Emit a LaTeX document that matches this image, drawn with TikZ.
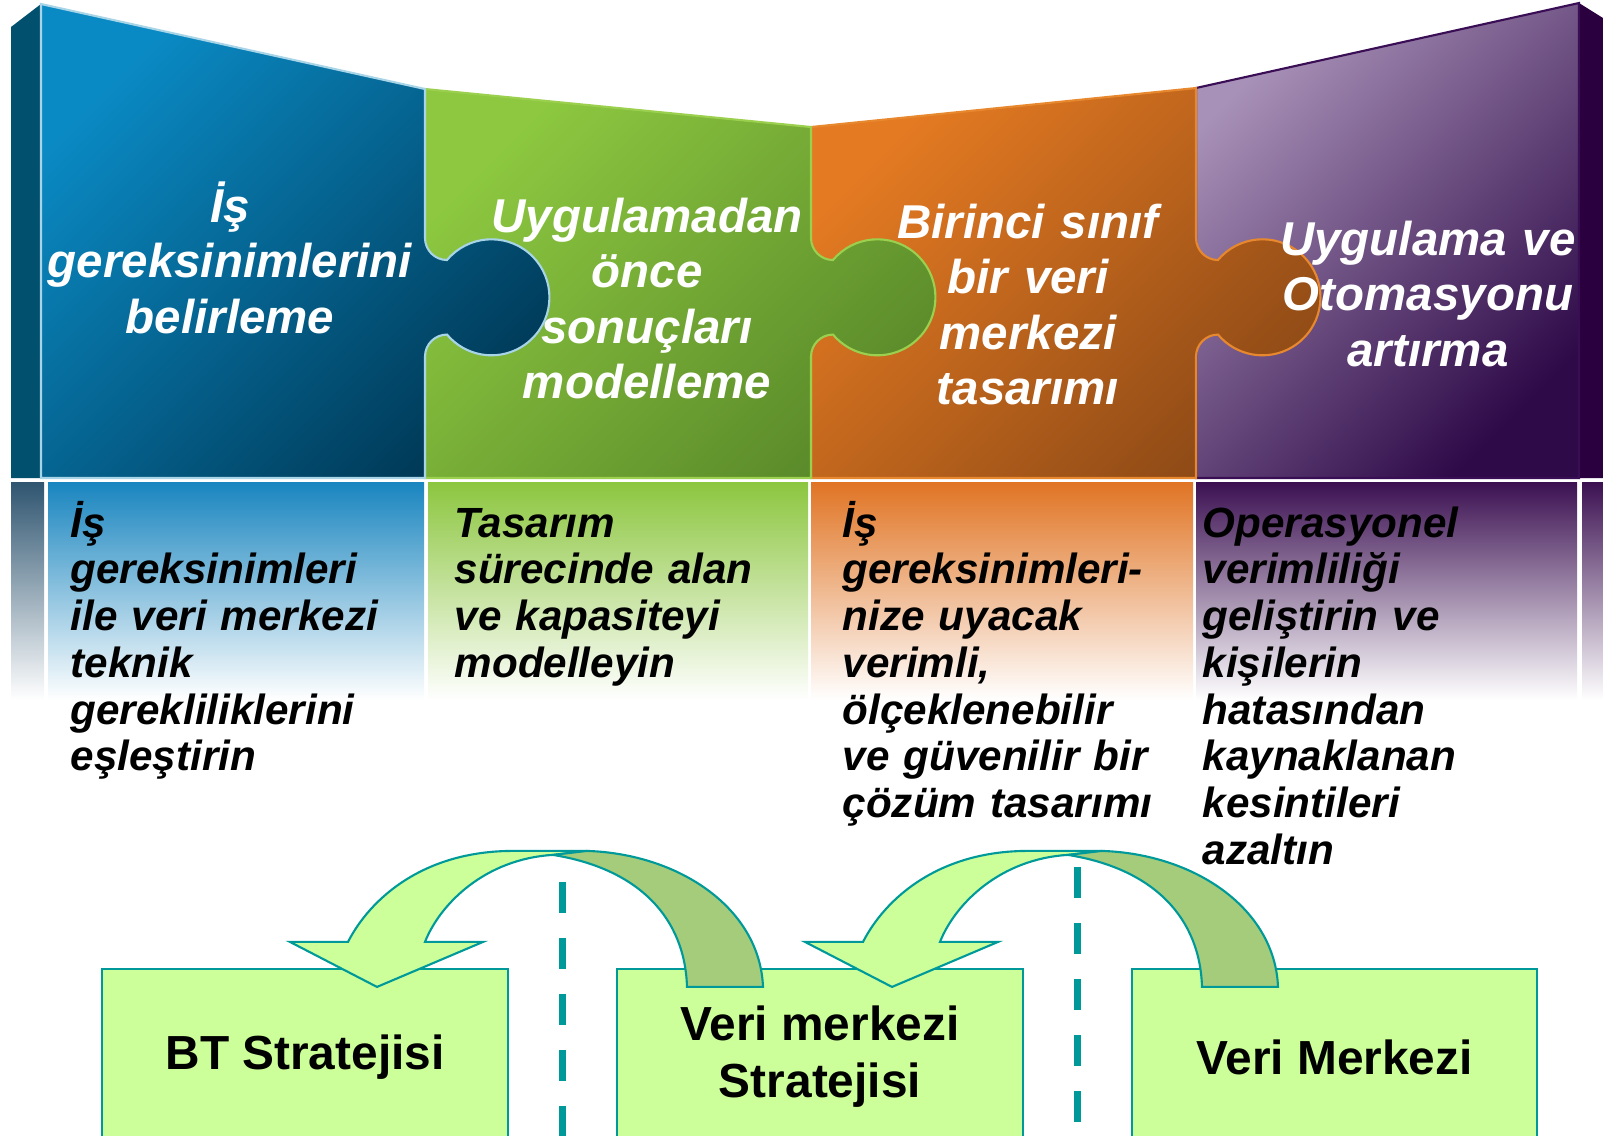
\documentclass[tikz,border=0pt]{standalone}
\usepackage{fontspec}
\setmainfont{Liberation Sans}
\usetikzlibrary{positioning}
\usetikzlibrary{calc}
\usepackage{xcolor}

\definecolor{tealline}{HTML}{009999}
\definecolor{boxgreen}{HTML}{CCFF99}
\definecolor{backgreen}{HTML}{A5CC7A}
\definecolor{sideblue}{HTML}{00506E}
\definecolor{sidepurple}{HTML}{2A003E}
\definecolor{bluetop}{HTML}{0A8AC4}
\definecolor{bluebot}{HTML}{003A58}
\definecolor{blueedge}{HTML}{A8D4E8}
\definecolor{greentop}{HTML}{8DC840}
\definecolor{greenbot}{HTML}{5A8A2A}
\definecolor{greenedge}{HTML}{9BD04F}
\definecolor{orangetop}{HTML}{E47A22}
\definecolor{orangebot}{HTML}{8E4A16}
\definecolor{orangeedge}{HTML}{E8882E}
\definecolor{purpletop}{HTML}{A891B8}
\definecolor{purplebot}{HTML}{2E0A48}
\definecolor{purpleedge}{HTML}{3A0E55}
\definecolor{stripgray}{HTML}{2F5570}
\definecolor{bandblue}{HTML}{1985BF}
\definecolor{bandgreen}{HTML}{8CC63F}
\definecolor{bandorange}{HTML}{E07424}
\definecolor{bandpurple}{HTML}{3C1152}

\begin{document}
\begin{tikzpicture}[x=0.01cm,y=0.01cm,
    piece/.style={line width=0.6pt,shading angle=45},
    piecetext/.style={text=white,font=\fontsize{13.5}{15.8}\selectfont\bfseries\itshape,text width=4.2cm,align=center,anchor=base,inner sep=0pt},
    desc/.style={font=\fontsize{12}{13.3}\selectfont\bfseries\itshape,text width=3.9cm,align=left,anchor=base west,inner sep=0pt},
    stratbox/.style={draw=tealline,fill=boxgreen,line width=0.6pt,minimum width=4.05cm,minimum height=1.76cm,align=center,font=\fontsize{13.6}{16.2}\selectfont\bfseries},
    sepline/.style={tealline,line width=2pt,dash pattern=on 0.31cm off 0.25cm},
    uarrow/.style={draw=tealline,line width=0.6pt}]
    \useasboundingbox (0,0) rectangle (1603,-1135);

    % side faces of the wall
    \fill[sideblue] (11,-27) -- (41,-4) -- (41,-478) -- (11,-478) -- cycle;
    \fill[sidepurple] (1579,-3) -- (1603,-18) -- (1603,-478) -- (1579,-478) -- cycle;

    % puzzle pieces, right to left so each tab lies on the next piece
    \path[draw=purpleedge,top color=purpletop,bottom color=purplebot,piece]
        (1196,-88) -- (1579,-3) -- (1579,-478) -- (1196,-478) -- cycle;
    \path[draw=orangeedge,top color=orangetop,bottom color=orangebot,piece]
        (811,-127) -- (1196,-88) -- (1196,-238)
        arc[start angle=180,end angle=270,radius=22]
        arc[start angle=140,end angle=-140,radius=58]
        arc[start angle=90,end angle=180,radius=22]
        -- (1196,-478) -- (811,-478) -- cycle;
    \path[draw=greenedge,top color=greentop,bottom color=greenbot,piece]
        (425,-89) -- (811,-127) -- (811,-238)
        arc[start angle=180,end angle=270,radius=22]
        arc[start angle=140,end angle=-140,radius=58]
        arc[start angle=90,end angle=180,radius=22]
        -- (811,-478) -- (425,-478) -- cycle;
    \path[draw=blueedge,top color=bluetop,bottom color=bluebot,piece]
        (41,-4) -- (425,-89) -- (425,-238)
        arc[start angle=180,end angle=270,radius=22]
        arc[start angle=140,end angle=-140,radius=58]
        arc[start angle=90,end angle=180,radius=22]
        -- (425,-478) -- (41,-478) -- cycle;

    \node[piecetext] (isg) at (230,-222) {İş\\gereksinimlerini\\belirleme};
    \node[piecetext] (uyg) at (647,-232) {Uygulamadan\\önce\\sonuçları\\modelleme};
    \node[piecetext] (bir) at (1028,-238) {Birinci sınıf\\bir veri\\merkezi\\tasarımı};
    \node[piecetext] (otm) at (1428,-255) {Uygulama ve\\Otomasyonu\\artırma};

    % fading band under the wall
    \shade[top color=stripgray,bottom color=white] (11,-482) rectangle (44,-700);
    \shade[top color=bandblue,bottom color=white] (48,-482) rectangle (424,-700);
    \shade[top color=bandgreen,bottom color=white] (428,-482) rectangle (808,-700);
    \shade[top color=bandorange,bottom color=white] (811,-482) rectangle (1193,-700);
    \shade[top color=bandpurple,bottom color=white] (1196,-482) rectangle (1577,-700);
    \shade[top color=bandpurple,bottom color=white] (1582,-482) rectangle (1603,-700);

    \node[desc] (isdesc) at (70,-537) {İş\\gereksinimleri\\ile veri merkezi\\teknik\\gerekliliklerini\\eşleştirin};
    \node[desc] (tasdesc) at (454,-537) {Tasarım\\sürecinde alan\\ve kapasiteyi\\modelleyin};
    \node[desc] (cozdesc) at (842,-537) {İş\\gereksinimleri-\\nize uyacak\\verimli,\\ölçeklenebilir\\ve güvenilir bir\\çözüm tasarımı};
    \node[desc] (opdesc) at (1202,-537) {Operasyonel\\verimliliği\\geliştirin ve\\kişilerin\\hatasından\\kaynaklanan\\kesintileri\\azaltın};

    % strategy boxes
    \node[stratbox] (bt) at (305,-1057) {BT Stratejisi};
    \node[stratbox] (vms) at (820,-1057) {Veri merkezi\\Stratejisi};
    \node[stratbox] (vm) at (1334.5,-1057) {Veri Merkezi};

    \coordinate (sep1) at ($(bt.north east)!.5!(vms.north west)+(0,86)$);
    \coordinate (sep2) at ($(vms.north east)!.5!(vm.north west)+(0,101)$);
    \draw[sepline] (sep1) -- (sep1 |- bt.south);
    \draw[sepline] (sep2) -- (sep2 |- vm.south);

    % u-turn arrows back to the box before
    \begin{scope}[shift={(bt.north)}]
        \path[uarrow,fill=boxgreen] (43,26) .. controls (65,69) and (118,117) .. (208,117) -- (282,117) -- (248,113)
            .. controls (180,109) and (135,64) .. (120,26) -- (178,26) -- (72,-19) -- (-15,26) -- cycle;
        \path[uarrow,fill=backgreen] (248,113) -- (282,117) .. controls (375,114) and (455,59) .. (458,-19)
            -- (382,-19) .. controls (380,49) and (335,99) .. (248,113) -- cycle;
    \end{scope}
    \begin{scope}[shift={(vms.north)}]
        \path[uarrow,fill=boxgreen] (43,26) .. controls (65,69) and (118,117) .. (208,117) -- (282,117) -- (248,113)
            .. controls (180,109) and (135,64) .. (120,26) -- (178,26) -- (72,-19) -- (-15,26) -- cycle;
        \path[uarrow,fill=backgreen] (248,113) -- (282,117) .. controls (375,114) and (455,59) .. (458,-19)
            -- (382,-19) .. controls (380,49) and (335,99) .. (248,113) -- cycle;
    \end{scope}

\end{tikzpicture}
\end{document}
